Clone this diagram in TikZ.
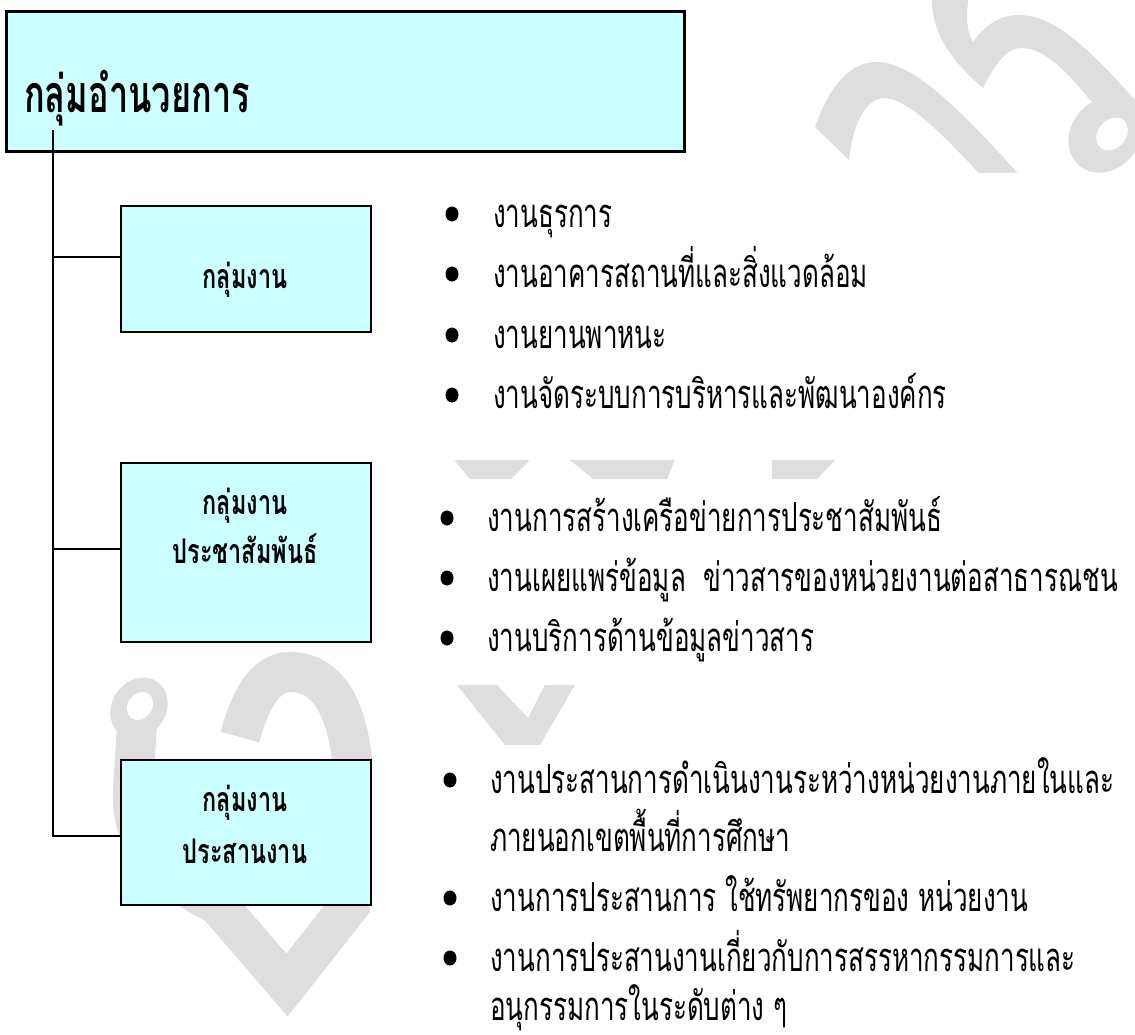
\documentclass[tikz,border=0pt]{standalone}
\usepackage{fontspec}
\usetikzlibrary{shapes.geometric}
\newfontfamily\itemfont[Script=Thai,FakeStretch=0.65]{Loma}
\newfontfamily\boxfont[Script=Thai,FakeStretch=0.69]{Loma Bold}
\newfontfamily\titlefont[Script=Thai,FakeStretch=0.66]{Loma Bold}
\definecolor{boxfill}{HTML}{CCFFFF}
\definecolor{wmgray}{RGB}{222,222,222}
\tikzset{
  unitbox/.style={draw=black, line width=2pt, fill=boxfill, anchor=north west, minimum width=250pt, inner sep=0pt},
  headbox/.style={draw=black, line width=3pt, fill=boxfill, anchor=north west, minimum width=678pt, minimum height=140pt, inner sep=0pt},
  boxlabel/.style={font=\boxfont\fontsize{34}{36}\selectfont, inner sep=0pt, text height=23pt, text depth=0pt},
  titlelabel/.style={font=\titlefont\fontsize{52}{54}\selectfont, inner sep=0pt, anchor=west, text height=34pt, text depth=0pt},
  item/.style={font=\itemfont\fontsize{40}{42}\selectfont, inner sep=0pt, anchor=west, text height=27pt, text depth=0pt},
  dot/.style={fill=black, ellipse, minimum width=13pt, minimum height=15pt, inner sep=0pt},
  branch/.style={draw=black, line width=1.3pt},
  wm/.style={fill=wmgray},
  wmstroke/.style={draw=wmgray, line width=40pt}
}
\begin{document}
\begin{tikzpicture}[x=1pt,y=-1pt]
\useasboundingbox (0,0) rectangle (1135,1034);
\fill[white] (0,0) rectangle (1135,1034);
% ---- watermark (light grey, behind everything)
\fill[wm] (815,127) .. controls (830,85) and (850,62) .. (877,62) .. controls (915,62) and (965,115) .. (1022,178) -- (983,178) .. controls (940,130) and (905,98) .. (884,98) .. controls (868,98) and (853,120) .. (849,160) -- cycle;
\fill[wm] (932,-5) .. controls (930,30) and (950,60) .. (983,88) .. controls (995,65) and (1005,48) .. (1022,48) .. controls (1045,48) and (1070,75) .. (1090,100) -- (1135,140) -- (1135,100) .. controls (1090,50) and (1055,15) .. (1019,15) .. controls (1000,15) and (985,25) .. (973,42) .. controls (966,30) and (966,15) .. (969,-5) -- cycle;
\fill[wm, rotate around={-40:(1105,135)}] (1105,135) ellipse [x radius=34pt, y radius=40pt];
\fill[white, rotate around={-40:(1112,134)}] (1112,134) ellipse [x radius=14pt, y radius=18pt];
\fill[wm] (454,460) -- (530,460) -- (511,479) -- (470,479) -- cycle;
\fill[wm] (570,460) -- (675,460) -- (667,479) -- (593,479) -- cycle;
\fill[wm] (772,460) -- (835,460) -- (817,479) -- (772,479) -- cycle;
\fill[wm] (457,685) -- (497,685) -- (528,718) -- (545,685) -- (575,685) -- (540,745) -- (505,745) -- cycle;
\draw[wmstroke, line join=miter] (137,725) -- (133,790) .. controls (130,850) and (170,880) .. (218,905) -- (287,985) -- (350,905) -- (352,760) .. controls (345,695) and (320,672) .. (290,672) .. controls (265,672) and (250,700) .. (240,737);
\fill[wm, rotate around={-35:(139,708)}] (139,708) ellipse [x radius=27pt, y radius=32pt];
\fill[white, rotate around={-35:(140,706)}] (140,706) ellipse [x radius=12pt, y radius=15pt];
% white text frames that hide the watermark
\fill[white] (375,173) rectangle (1135,460);
\fill[white] (375,479) rectangle (1135,685);
\fill[white] (375,745) rectangle (1135,1034);
% ---- head box
\node[headbox] (head) at (5,10) {};
\node[titlelabel] (title) at (24,95) {กลุ่มอำนวยการ};
% unit boxes
\node[unitbox, minimum height=126pt] (g1) at (120,205) {};
\node[unitbox, minimum height=179pt] (g2) at (120,462) {};
\node[unitbox, minimum height=145pt] (g3) at (120,759) {};
\node[boxlabel] (g1a) at (245,277) {กลุ่มงาน};
\node[boxlabel] (g2a) at (245,503) {กลุ่มงาน};
\node[boxlabel] (g2b) at (245,552) {ประชาสัมพันธ์};
\node[boxlabel] (g3a) at (245,800) {กลุ่มงาน};
\node[boxlabel] (g3b) at (245,852) {ประสานงาน};
% connectors
\coordinate (vtop) at (53,130);
\coordinate (j1) at (53,257);
\coordinate (j2) at (53,549);
\coordinate (j3) at (53,836);
\draw[branch] (vtop) -- (j3) -- (j3 -| g3.west);
\draw[branch] (j1) -- (j1 -| g1.west);
\draw[branch] (j2) -- (j2 -| g2.west);
% group 1 items
\foreach \i/\yy/\t in {1/214/งานธุรการ, 2/274/งานอาคารสถานที่และสิ่งแวดล้อม, 3/335/งานยานพาหนะ, 4/395/งานจัดระบบการบริหารและพัฒนาองค์กร}{
  \node[dot] (b1\i) at (452,\yy) {};
  \node[item] (t1\i) at (493,\yy) {\t};
}
% group 2 items
\foreach \i/\yy/\t in {1/518/งานการสร้างเครือข่ายการประชาสัมพันธ์, 2/578/{งานเผยแพร่ข้อมูล\ \ ข่าวสารของหน่วยงานต่อสาธารณชน}, 3/638/งานบริการด้านข้อมูลข่าวสาร}{
  \node[dot] (b2\i) at (447,\yy) {};
  \node[item] (t2\i) at (487,\yy) {\t};
}
% group 3 items
\node[dot] (b31) at (450,780) {};
\node[item] (t31) at (490,780) {งานประสานการดำเนินงานระหว่างหน่วยงานภายในและ};
\node[item] (t31b) at (490,838) {ภายนอกเขตพื้นที่การศึกษา};
\node[dot] (b32) at (450,898) {};
\node[item] (t32) at (490,898) {งานการประสานการ ใช้ทรัพยากรของ หน่วยงาน};
\node[dot] (b33) at (450,958) {};
\node[item] (t33) at (490,958) {งานการประสานงานเกี่ยวกับการสรรหากรรมการและ};
\node[item] (t33b) at (490,1007) {อนุกรรมการในระดับต่าง ๆ};
\end{tikzpicture}
\end{document}
